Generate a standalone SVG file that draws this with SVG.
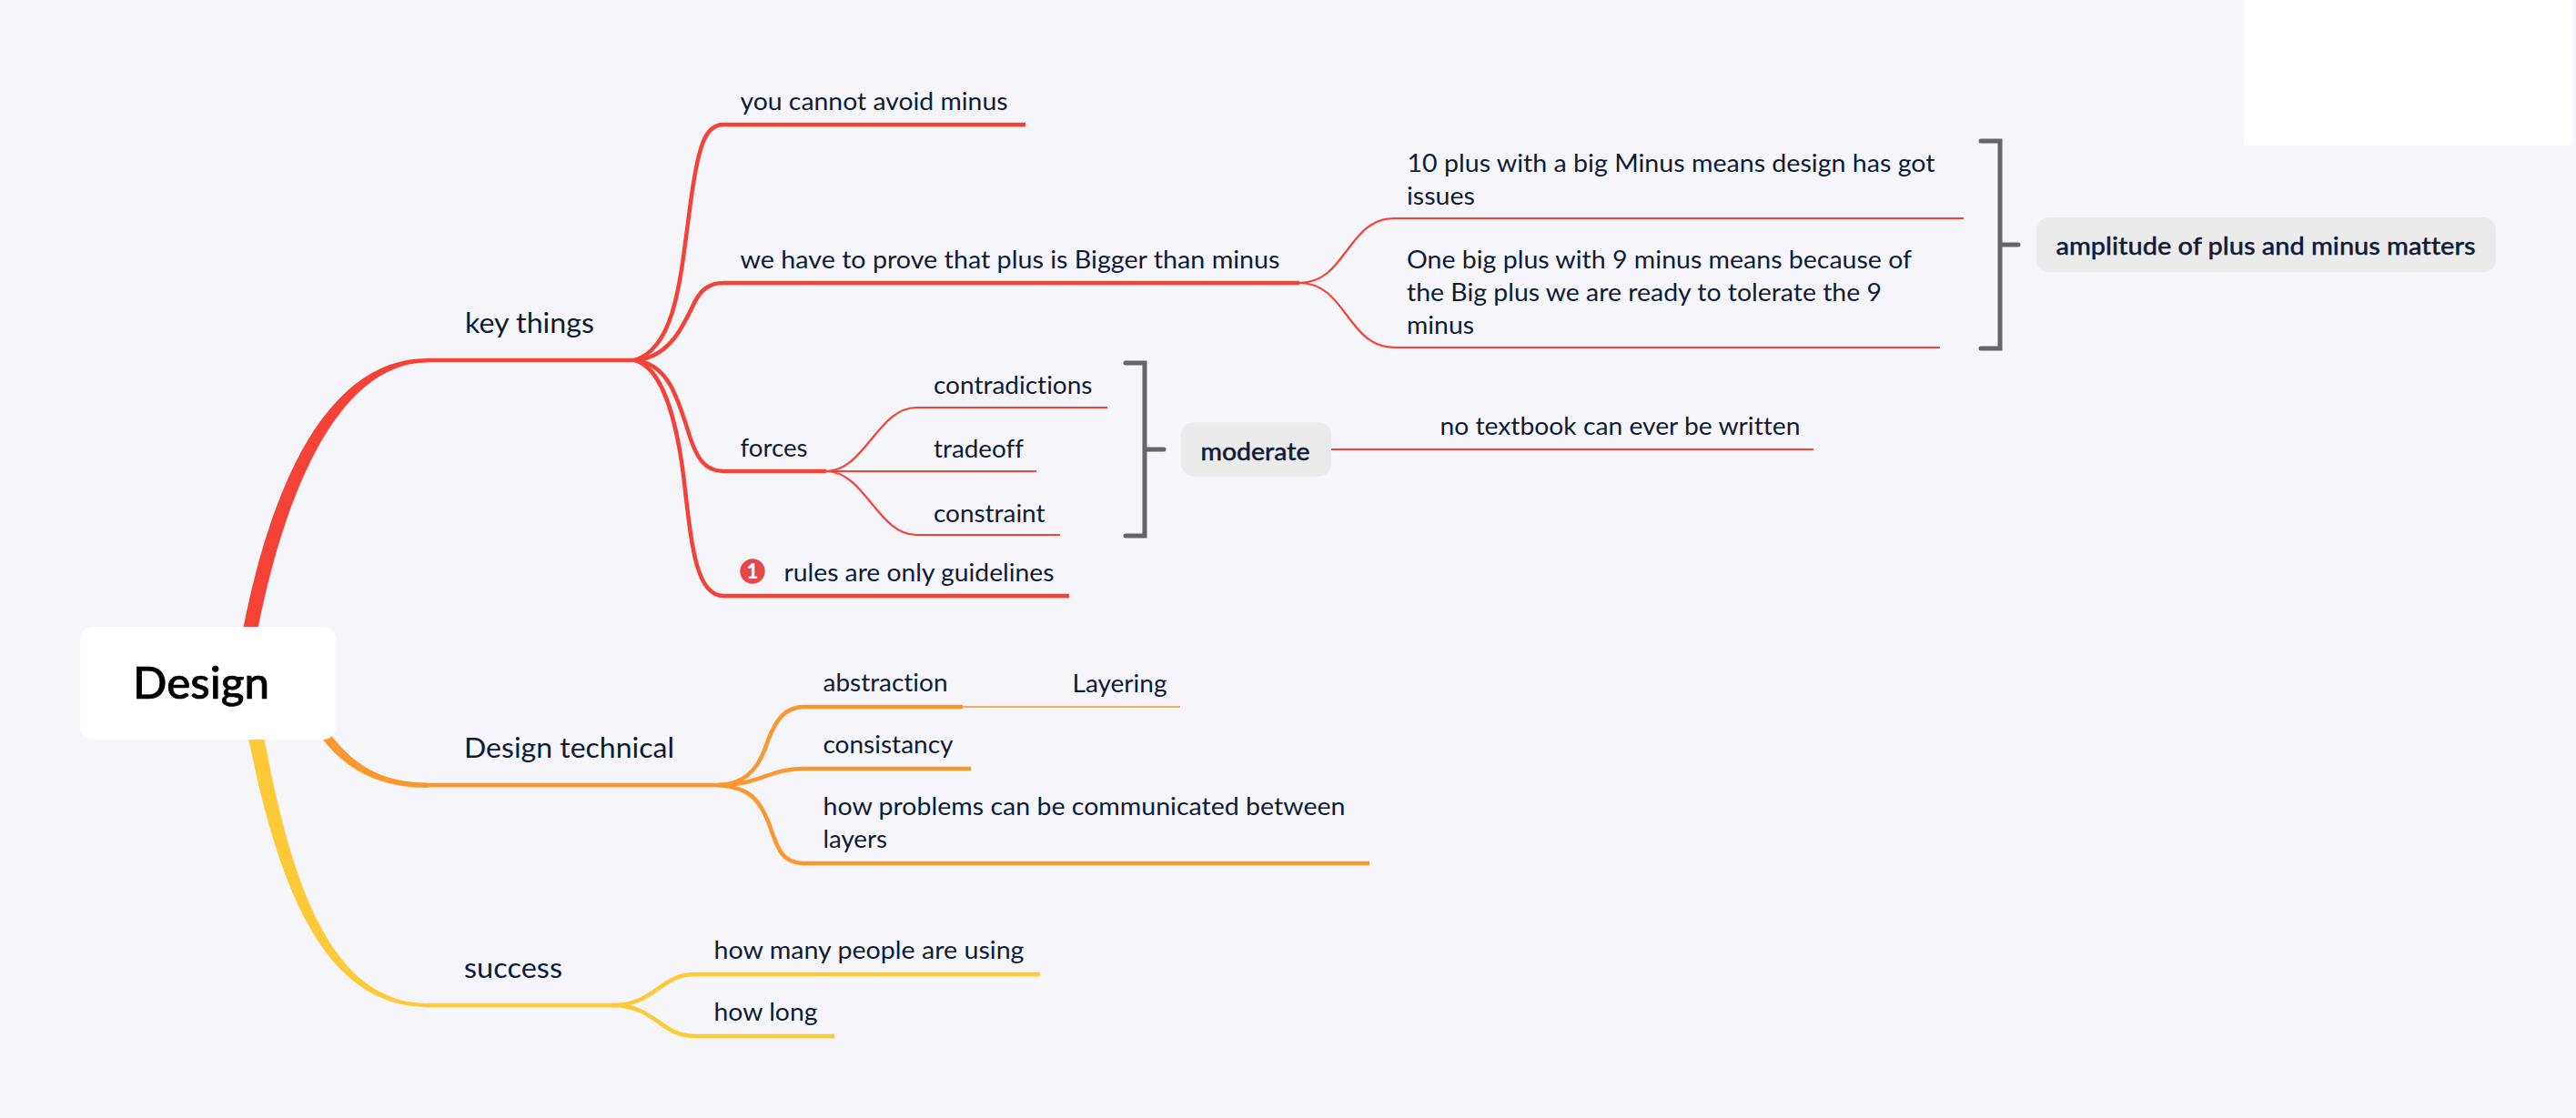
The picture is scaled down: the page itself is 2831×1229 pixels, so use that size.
<svg xmlns="http://www.w3.org/2000/svg" width="2831" height="1229" viewBox="0 0 2831 1229">
<style>
text{font-family:"Lato","Open Sans","Liberation Sans",sans-serif;fill:#0f1c38;font-size:27px;font-variant-ligatures:none;transform:translate(-.5px,.5px)}
.h{font-size:31px;transform:translate(-1px,1.5px)}
.b{font-weight:500;stroke:#0f1c38;stroke-width:.4}
.root{font-size:49px;fill:#000;font-weight:500;stroke:#000;stroke-width:.7;transform:translate(-1px,1.5px)}
.l{fill:none;stroke-linecap:butt;stroke-linejoin:round}
.r{stroke:#f44336}.o{stroke:#fa982e}.y{stroke:#ffca37}
.w4{stroke-width:4.5}.w2{stroke-width:2.2}
.br{fill:none;stroke:#666;stroke-width:5;stroke-linecap:round}
.sum{fill:#ebebeb}
</style>
<rect width="2831" height="1229" fill="#f5f5fa"/>
<rect x="2466" y="-6" width="362" height="166" rx="4" fill="#fff"/>
<g id="connectors">
<path fill="#f44336" d="M257 751C292 517 367 394 469 394L469 398.500C380 398.500 308 523 273 751Z"/>
<path fill="#fa982e" d="M340 770C365 815 395 860.500 470 860.500L470 866C390 866 352 820 330 770Z"/>
<path fill="#ffca37" d="M262 751C296 950 345 1107 470 1107L470 1103C355 1103 312 950 280 751Z"/>
<g class="l r w4">
<path d="M469 396H698"/>
<path d="M698 396C745 380 748 300 760 215C768 160 775 137 795 137H1127"/>
<path d="M698 396C735 393 750 360 762 335C770 318 780 311 795 311H1428"/>
<path d="M698 396C735 400 745 440 755 470C765 505 775 518 795 518H908"/>
<path d="M698 396C730 405 745 470 752 530C760 600 765 655 795 655H1175"/>
</g>
<g class="l r w2">
<path d="M908 518C950 518 965 448 1007 448H1217"/>
<path d="M908 518H1139"/>
<path d="M908 518C950 518 965 588 1007 588H1165"/>
<path d="M1428 311C1480 311 1480 240 1533 240H2158"/>
<path d="M1428 311C1480 311 1480 382 1533 382H2132"/>
<path d="M1463 494H1993"/>
</g>
<g class="l o w4">
<path d="M470 863H790"/>
<path d="M790 863C815 862 830 850 840 825C850 795 860 777 884 777H1058"/>
<path d="M790 863C835 863 845 845 882 845H1067"/>
<path d="M790 863C825 866 835 880 845 905C855 935 860 949 884 949H1505"/>
</g>
<path class="l" stroke="#f9ab60" stroke-width="2.200" d="M1058 777H1297"/>
<g class="l y w4">
<path d="M470 1105H673"/>
<path d="M673 1105C720 1105 725 1071 764 1071H1143"/>
<path d="M673 1105C720 1105 725 1139 764 1139H917"/>
</g>
<path class="br" d="M1237 399H1258V589H1237M1258 494H1279"/>
<path class="br" d="M2177 155H2198V383H2177M2198 269H2218"/>
</g>
<g id="node-root"><rect x="88" y="689" width="281" height="124" rx="14" fill="#fff"/><text class="root" x="147" y="766" textLength="150" lengthAdjust="spacingAndGlyphs">Design</text></g>
<g id="node-key-things"><text class="h" x="512" y="364" textLength="142" lengthAdjust="spacingAndGlyphs">key things</text></g>
<g id="node-minus"><text x="814" y="120" textLength="294" lengthAdjust="spacingAndGlyphs">you cannot avoid minus</text></g>
<g id="node-prove"><text x="814" y="294" textLength="593" lengthAdjust="spacingAndGlyphs">we have to prove that plus is Bigger than minus</text></g>
<g id="node-ten"><text x="1547" y="188" textLength="580" lengthAdjust="spacingAndGlyphs">10 plus with a big Minus means design has got</text><text x="1546.500" y="224" textLength="75" lengthAdjust="spacingAndGlyphs">issues</text></g>
<g id="node-one"><text x="1546.500" y="294" textLength="555" lengthAdjust="spacingAndGlyphs">One big plus with 9 minus means because of</text><text x="1546.500" y="330" textLength="522" lengthAdjust="spacingAndGlyphs">the Big plus we are ready to tolerate the 9</text><text x="1546.500" y="366" textLength="74" lengthAdjust="spacingAndGlyphs">minus</text></g>
<g id="node-amplitude"><rect class="sum" x="2238" y="239" width="505" height="60" rx="14"/><text class="b" x="2260" y="279" textLength="461" lengthAdjust="spacingAndGlyphs">amplitude of plus and minus matters</text></g>
<g id="node-forces"><text x="814" y="501" textLength="74" lengthAdjust="spacingAndGlyphs">forces</text></g>
<g id="node-contradictions"><text x="1026.500" y="432" textLength="174.500" lengthAdjust="spacingAndGlyphs">contradictions</text></g>
<g id="node-tradeoff"><text x="1026.500" y="502" textLength="99" lengthAdjust="spacingAndGlyphs">tradeoff</text></g>
<g id="node-constraint"><text x="1026.500" y="573" textLength="122.500" lengthAdjust="spacingAndGlyphs">constraint</text></g>
<g id="node-moderate"><rect class="sum" x="1298" y="464.500" width="165" height="59" rx="14"/><text class="b" x="1320" y="505" textLength="120" lengthAdjust="spacingAndGlyphs">moderate</text></g>
<g id="node-textbook"><text x="1583" y="477" textLength="396" lengthAdjust="spacingAndGlyphs">no textbook can ever be written</text></g>
<g id="node-rules"><circle cx="827" cy="628" r="14.500" fill="#e8474a" stroke="#fff" stroke-width="1.500"/><text x="827" y="636" text-anchor="middle" style="fill:#fff;font-size:22px;font-weight:900;transform:none">1</text><text x="862" y="638" textLength="297" lengthAdjust="spacingAndGlyphs">rules are only guidelines</text></g>
<g id="node-design-technical"><text class="h" x="511" y="831" textLength="231" lengthAdjust="spacingAndGlyphs">Design technical</text></g>
<g id="node-abstraction"><text x="905" y="759" textLength="137" lengthAdjust="spacingAndGlyphs">abstraction</text></g>
<g id="node-layering"><text x="1179" y="760" textLength="104" lengthAdjust="spacingAndGlyphs">Layering</text></g>
<g id="node-consistancy"><text x="905" y="827" textLength="143" lengthAdjust="spacingAndGlyphs">consistancy</text></g>
<g id="node-problems"><text x="905" y="895" textLength="574" lengthAdjust="spacingAndGlyphs">how problems can be communicated between</text><text x="905" y="931" textLength="70.500" lengthAdjust="spacingAndGlyphs">layers</text></g>
<g id="node-success"><text class="h" x="511" y="1073" textLength="108" lengthAdjust="spacingAndGlyphs">success</text></g>
<g id="node-people"><text x="785" y="1053" textLength="341" lengthAdjust="spacingAndGlyphs">how many people are using</text></g>
<g id="node-long"><text x="785" y="1121" textLength="114" lengthAdjust="spacingAndGlyphs">how long</text></g>
</svg>
